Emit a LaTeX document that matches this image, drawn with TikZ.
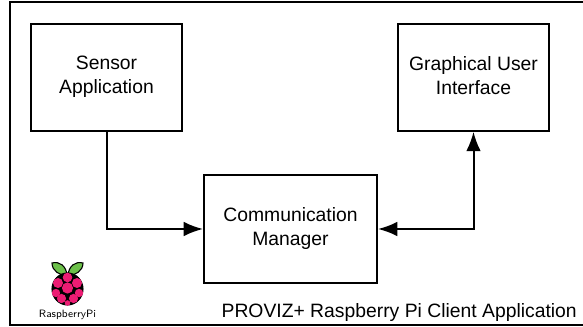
\documentclass[tikz,border=0pt]{standalone}
\usepackage{fontspec}
\setmainfont{Liberation Sans}
\usetikzlibrary{arrows.meta}
\definecolor{leafgreen}{HTML}{6CC04A}
\definecolor{berrypink}{HTML}{EC1C73}
\tikzset{
  block/.style={draw=black, line width=1.5pt, fill=white, align=center, font=\fontsize{14.5}{18}\selectfont,
     minimum width=113pt, minimum height=80pt, inner sep=0pt, text depth=3.5pt},
  link/.style={draw=black, line width=1.5pt},
  tip/.style={-{Latex[length=14.5pt,width=11pt]}},
  frame line/.style={draw=black, line width=1.5pt},
  leaf/.style={draw=black, line width=0.8pt, fill=leafgreen},
  seed/.style={draw=none, fill=berrypink}
}
\def\BerrySeed#1#2#3{%
  \fill[seed] (#1,#2) circle (#3);
}
\begin{document}
\begin{tikzpicture}[x=0.75pt,y=-0.75pt]
\useasboundingbox (0,0) rectangle (583,327);
\draw[frame line] (583,2.5) -- (9.5,2.5) -- (9.5,325.5) -- (583,325.5);
\node[block] (Sensor) at (106.5,77.5) {Sensor\\Application};
\node[block] (Gui) at (473.5,77.5) {Graphical User\\Interface};
\node[block, minimum width=129.75pt, minimum height=81pt] (Comm) at (290.5,229) {Communication\\Manager};
\draw[link,tip] (Sensor.south) |- (Comm.west);
\draw[link,{Latex[length=14.5pt,width=11pt]}-{Latex[length=14.5pt,width=11pt]}] (Comm.east) -| (Gui.south);
% logo
\filldraw[leaf] (67,275) .. controls (60,276) and (52,271) .. (52,263) .. controls (60,261) and (66,266) .. (67,275);
\filldraw[leaf] (68,275) .. controls (75,276) and (83,271) .. (83,263) .. controls (75,261) and (69,266) .. (68,275);
\filldraw[draw=black, line width=0.8pt, fill=black] (67.5,289) ellipse (15.5 and 16);
\BerrySeed{67.5}{277.5}{4.8}
\BerrySeed{58}{283}{5}
\BerrySeed{77}{283}{5}
\BerrySeed{67.5}{288}{5.6}
\BerrySeed{56}{293}{4.2}
\BerrySeed{79}{293}{4.2}
\BerrySeed{61.5}{298.5}{4.6}
\BerrySeed{73.5}{298.5}{4.6}
\BerrySeed{67.5}{303}{2.8}
\node[inner sep=0pt, font=\sffamily\fontsize{8}{9}\selectfont] (Logo) at (67.5,314.5) {RaspberryPi};
\node[inner sep=0pt, anchor=base east, font=\fontsize{14.5}{16}\selectfont] (Title) at (577,318) {PROVIZ+ Raspberry Pi Client Application};
\end{tikzpicture}
\end{document}
